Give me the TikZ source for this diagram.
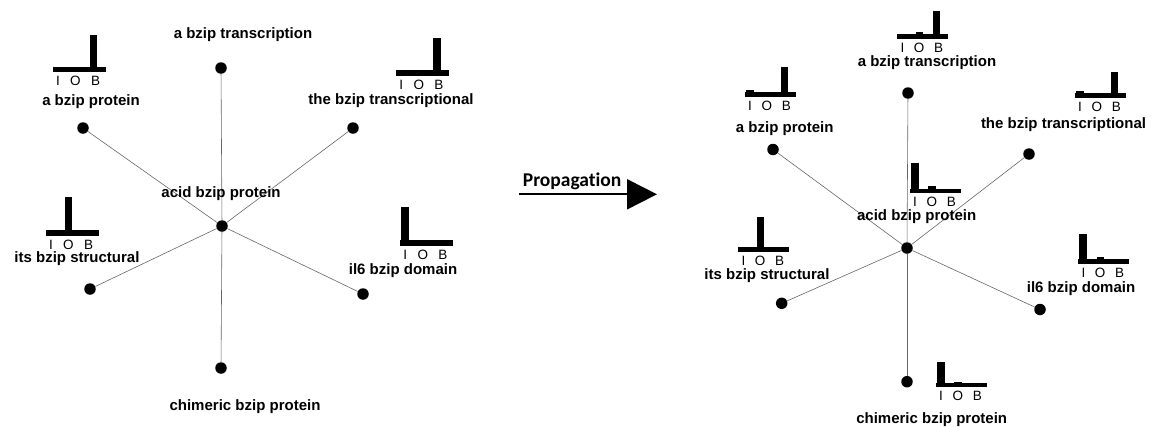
\documentclass[tikz,border=0pt]{standalone}
\usepackage{fontspec}
\setmainfont{Liberation Sans}
\newfontfamily\propfont[Ligatures=NoCommon]{Carlito}
\usetikzlibrary{arrows.meta}

% IOB histogram: #1 = left x, #2 = top y of the base bar, #3/#4/#5 = heights of I/O/B,
% #6 = bar width, #7 = bar thickness
\newcommand\iobhist[7]{%
  \fill (#1,#2) rectangle ++(#6,#7);
  \fill ({#1+0.02*#6},#2) rectangle ++({0.15*#6},-#3);
  \fill ({#1+0.36*#6},#2) rectangle ++({0.14*#6},-#4);
  \fill ({#1+0.70*#6},#2) rectangle ++({0.14*#6},-#5);
  \node[ioblab] at ({#1+0.10*#6},{#2+#7+9}) {I};
  \node[ioblab] at ({#1+0.43*#6},{#2+#7+9}) {O};
  \node[ioblab] at ({#1+0.81*#6},{#2+#7+9}) {B};
}

\begin{document}
\begin{tikzpicture}[x=1pt,y=-1pt,
  term/.style={font=\bfseries\fontsize{15}{18}\selectfont, inner sep=0pt},
  ioblab/.style={font=\fontsize{13.5}{15}\selectfont, inner sep=0pt},
  edge/.style={draw=black!60, line width=0.6pt},
  dot/.style={circle, fill=black, minimum size=11.5pt, inner sep=0pt}]
\useasboundingbox (0,0) rectangle (1152,426);

% ---------- left graph ----------
\node[dot] (lc) at (222,226) {};
\node[dot] (ltr) at (221,68) {};
\node[dot] (lpr) at (83,128) {};
\node[dot] (ltl) at (353,128) {};
\node[dot] (lst) at (90,289) {};
\node[dot] (lil) at (363,294) {};
\node[dot] (lch) at (221,368) {};
\foreach \n in {ltr,lpr,ltl,lst,lil,lch} \draw[edge] (lc) -- (\n);

\node[term] (ltrl) at (243,35) {a bzip transcription};
\node[term] (lprl) at (91,102) {a bzip protein};
\node[term] (ltll) at (391,101) {the bzip transcriptional};
\node[term] (lcl) at (221,194) {acid bzip protein};
\node[term] (lstl) at (77,259) {its bzip structural};
\node[term] (lill) at (403,271) {il6 bzip domain};
\node[term] (lchl) at (245,407) {chimeric bzip protein};

\iobhist{52.7}{66.7}{0}{0}{32}{53}{5.5}
\iobhist{396}{70}{0}{0}{32}{53}{5.5}
\iobhist{45.7}{230}{0}{33}{0}{53}{5.5}
\iobhist{400}{240}{33}{0}{0}{53}{5.5}

% ---------- propagation arrow ----------
\coordinate (pa) at (519,194.3);
\coordinate (pb) at (657,194.3);
\draw[line width=2pt, -{Triangle[length=30pt,width=30pt]}] (pa) -- (pb);
\node[anchor=base west, inner sep=0pt, font=\propfont\bfseries\fontsize{19.5}{22}\selectfont] (prop) at (522.7,186) {Propagation};

% ---------- right graph ----------
\node[dot] (rc) at (907,248) {};
\node[dot] (rtr) at (908,93) {};
\node[dot] (rpr) at (773,149.5) {};
\node[dot] (rtl) at (1029,154) {};
\node[dot] (rst) at (781.7,303.3) {};
\node[dot] (ril) at (1040,309.5) {};
\node[dot] (rch) at (907,381.7) {};
\foreach \n in {rtr,rpr,rtl,rst,ril,rch} \draw[edge] (rc) -- (\n);

\node[term] (rtrl) at (927,63) {a bzip transcription};
\node[term] (rprl) at (784.7,128.3) {a bzip protein};
\node[term] (rtll) at (1063.5,125) {the bzip transcriptional};
\node[term] (rcl) at (916.7,217) {acid bzip protein};
\node[term] (rstl) at (767,276) {its bzip structural};
\node[term] (rill) at (1081,288.5) {il6 bzip domain};
\node[term] (rchl) at (931.7,420) {chimeric bzip protein};

\iobhist{745}{92.3}{2.5}{0}{25}{51}{4.7}
\iobhist{897.3}{34.3}{0}{2.2}{23.3}{51}{4.7}
\iobhist{1075}{93.3}{2.5}{0}{21}{51}{4.7}
\iobhist{910}{188.5}{25.3}{2.6}{0}{51}{4.7}
\iobhist{738.3}{246.7}{0}{30}{0}{51}{5.5}
\iobhist{1078.3}{259.3}{25.3}{2.6}{0}{51}{4.7}
\iobhist{936}{382.7}{21}{1.2}{0}{51}{4.2}
\end{tikzpicture}
\end{document}
